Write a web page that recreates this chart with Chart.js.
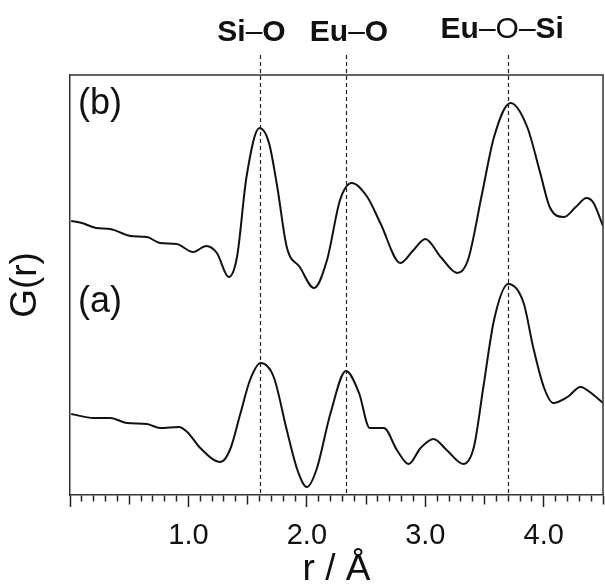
<!DOCTYPE html>
<html><head><meta charset="utf-8">
<script src="https://cdn.jsdelivr.net/npm/chart.js@4.4.1/dist/chart.umd.min.js"></script>
<style>html,body{margin:0;padding:0;background:#fff;}#wrap{width:605px;height:588px;}</style>
</head><body><div id="wrap"><canvas id="c" width="605" height="588"></canvas></div>
<script>
// ---- data ----
const rB = [0.01,0.10,0.22,0.34,0.51,0.65,0.76,0.90,1.04,1.15,1.24,1.34,1.41,1.49,1.60,1.68,1.75,1.83,1.94,2.06,2.17,2.28,2.38,2.51,2.62,2.79,2.90,3.00,3.13,3.27,3.36,3.48,3.58,3.72,3.86,3.97,4.05,4.17,4.27,4.36,4.42,4.50];
const gB = [27.4,27.2,26.7,26.6,25.9,25.8,25.2,25.1,24.3,24.9,24.2,21.8,23.8,31.8,36.7,35.2,30.8,24.8,22.8,20.7,23.5,29.5,31.2,29.8,27.2,23.2,24.5,25.6,23.8,22.2,23.5,30.2,35.8,39.2,36.8,32.2,28.8,27.8,28.8,29.7,29.2,26.9];
const rA = [0.01,0.20,0.34,0.48,0.65,0.76,0.92,0.99,1.10,1.27,1.35,1.44,1.52,1.61,1.72,1.83,1.92,2.00,2.08,2.20,2.33,2.44,2.53,2.65,2.76,2.86,2.96,3.07,3.18,3.32,3.41,3.49,3.58,3.70,3.83,3.91,4.00,4.08,4.20,4.31,4.42,4.50];
const gA = [8.1,7.7,7.7,7.2,7.1,6.7,6.8,6.3,4.7,3.3,4.5,8.2,11.5,13.2,11.8,6.5,2.5,0.8,2.5,8.2,12.4,10.2,6.7,6.7,4.5,3.1,4.7,5.6,4.5,3.1,4.8,10.8,17.5,21.1,19.2,14.8,10.8,9.2,9.8,10.8,10.0,9.2];
const xTickLabels = ['1.0','2.0','3.0','4.0'];
const refLines = [1.60, 2.33, 3.70];
const refLabelParts = [
  [['Si','bold'],['\u2013','normal'],['O','bold']],
  [['Eu','bold'],['\u2013','normal'],['O','bold']],
  [['Eu','bold'],['\u2013O\u2013','normal'],['Si','bold']]
];
const panelLabels = ['(b)', '(a)'];
const xTitle = 'r / \u00C5';
const yTitle = 'G(r)';

const FONT = "'Liberation Sans', Arial, sans-serif";
const INK = '#111';

const overlay = {
  id: 'overlay',
  afterDatasetsDraw(chart) {
    const {ctx, chartArea: a, scales: {x}} = chart;
    ctx.save();
    // top and right frame
    ctx.strokeStyle = '#333'; ctx.lineWidth = 1.5;
    ctx.beginPath(); ctx.moveTo(a.left, a.top); ctx.lineTo(a.right, a.top); ctx.lineTo(a.right, a.bottom); ctx.stroke();
    // dashed reference lines
    ctx.setLineDash([4, 3]); ctx.lineWidth = 1.2; ctx.strokeStyle = '#222';
    refLines.forEach(v => {
      const px = Math.round(x.getPixelForValue(v)) + 0.5;
      ctx.beginPath(); ctx.moveTo(px, a.top - 20); ctx.lineTo(px, a.bottom); ctx.stroke();
    });
    ctx.setLineDash([]);
    // reference labels
    const offs = [-8, 3, -6];
    const bases = [41, 41, 37.5];
    ctx.fillStyle = INK; ctx.textBaseline = 'alphabetic'; ctx.textAlign = 'left';
    refLabelParts.forEach((parts, i) => {
      let w = 0;
      parts.forEach(([t, wt]) => { ctx.font = wt + ' 30px ' + FONT; w += ctx.measureText(t).width; });
      let cx = x.getPixelForValue(refLines[i]) + offs[i] - w / 2;
      parts.forEach(([t, wt]) => { ctx.font = wt + ' 30px ' + FONT; ctx.fillText(t, cx, bases[i]); cx += ctx.measureText(t).width; });
    });
    // panel labels
    ctx.font = '36px ' + FONT;
    ctx.fillText(panelLabels[0], a.left + 8, 114);
    ctx.fillText(panelLabels[1], a.left + 8, 312);
    ctx.restore();
  }
};

new Chart(document.getElementById('c'), {
  type: 'line',
  data: {
    datasets: [
      {label: '(b)', data: rB.map((r, i) => ({x: r, y: gB[i]}))},
      {label: '(a)', data: rA.map((r, i) => ({x: r, y: gA[i]}))}
    ]
  },
  options: {
    responsive: false, animation: false, devicePixelRatio: 1,
    layout: {padding: {top: 75, right: 2, left: 0, bottom: 0}},
    plugins: {legend: {display: false}, tooltip: {enabled: false}},
    elements: {
      point: {radius: 0},
      line: {borderWidth: 2, borderColor: INK, cubicInterpolationMode: 'monotone', fill: false}
    },
    scales: {
      x: {
        type: 'linear', min: 0, max: 4.5, position: 'bottom',
        afterFit: s => { s.height = 93; s.paddingLeft = 0; s.paddingRight = 0; },
        border: {display: true, color: '#333', width: 1.5},
        grid: {
          drawOnChartArea: false, drawTicks: true, tickLength: 12, tickColor: '#222', tickWidth: 1.5,
          tickBorderDash: ctx => {
            const n = Math.round(ctx.tick.value * 10);
            if (n % 10 === 0) return [];
            if (n % 5 === 0) return [9, 30];
            return [6, 30];
          }
        },
        ticks: {
          stepSize: 0.1, autoSkip: false, maxRotation: 0, minRotation: 0,
          font: {family: FONT, size: 29, lineHeight: 1}, color: INK, padding: 14,
          callback: v => { const s = Number(v).toFixed(1); return xTickLabels.includes(s) ? s : ''; }
        },
        title: {display: true, text: xTitle, color: INK, font: {family: FONT, size: 37, lineHeight: 1}, padding: {top: 0, bottom: 0}}
      },
      y: {
        min: 0, max: 42,
        afterFit: s => { s.width = 70; },
        border: {display: true, color: '#333', width: 1.5},
        grid: {display: false},
        ticks: {display: false},
        title: {display: true, text: yTitle, color: INK, font: {family: FONT, size: 37, lineHeight: 1}, padding: {top: 7, bottom: 0}}
      }
    }
  },
  plugins: [overlay]
});
</script></body></html>
